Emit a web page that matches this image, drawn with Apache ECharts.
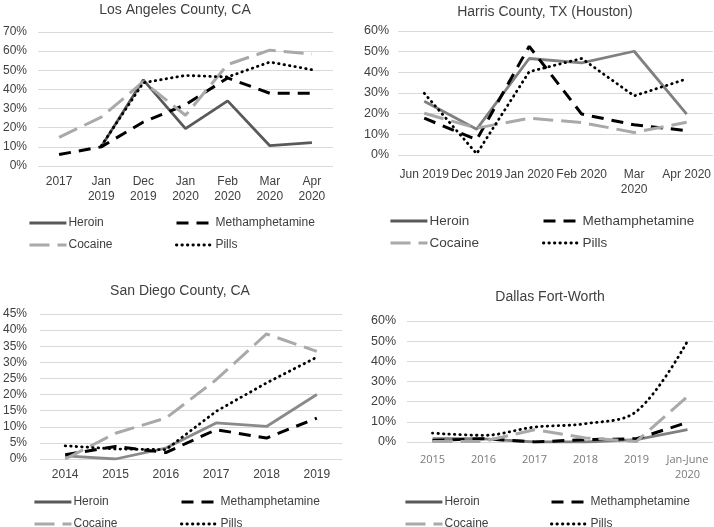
<!DOCTYPE html>
<html>
<head>
<meta charset="utf-8">
<script src="https://cdn.jsdelivr.net/npm/echarts@6/dist/echarts.min.js"></script>
<style>
html,body{margin:0;padding:0;background:#fff;}
#c{width:714px;height:527px;}
</style>
</head>
<body>
<div id="c"></div>
<script>
// ---- Data ----
const seriesNames = ['Heroin', 'Methamphetamine', 'Cocaine', 'Pills'];

// Los Angeles County, CA
const laCats = ['2017', 'Jan\n2019', 'Dec\n2019', 'Jan\n2020', 'Feb\n2020', 'Mar\n2020', 'Apr\n2020'];
const laHeroin = [null, 10, 45, 19.5, 34, 10.6, 12.2];
const laMeth = [6, 10, 23, 32, 46, 38, 38];
const laCocaine = [15, 25.5, 44, 26.5, 53, 60.5, 58.5];
const laPills = [null, 10.5, 43.5, 47.3, 46.5, 54.3, 50.3];
const laTicks = [0, 70, 10];

// Harris County, TX (Houston)
const hcCats = ['Jun 2019', 'Dec 2019', 'Jan 2020', 'Feb 2020', 'Mar\n2020', 'Apr 2020'];
const hcHeroin = [26, 12.5, 46.7, 44.6, 50.2, 19.8];
const hcMeth = [17.8, 7.4, 52.6, 19.8, 14.6, 11.8];
const hcCocaine = [20.2, 13, 17.8, 15.7, 10.9, 15.8];
const hcPills = [29.9, 0.6, 40.3, 46.7, 28.6, 36.8];
const hcTicks = [0, 60, 10];

// San Diego County, CA
const sdCats = ['2014', '2015', '2016', '2017', '2018', '2019'];
const sdHeroin = [1, 0, 3.4, 11.2, 10.1, 20];
const sdMeth = [1.3, 3.9, 2, 9.1, 6.5, 12.7];
const sdCocaine = [0, 8, 12.7, 24.6, 38.8, 33.4];
const sdPills = [4.1, 3.1, 2.9, 14.8, 23.6, 31.6];
const sdTicks = [0, 45, 5];

// Dallas Fort-Worth
const dfCats = ['2015', '2016', '2017', '2018', '2019', 'Jan-June\n2020'];
const dfHeroin = [1.6, 1.6, 0, 0, 1.2, 6.1];
const dfMeth = [0.8, 1.6, 0, 1.2, 1.6, 9.7];
const dfCocaine = [0.3, 0.3, 6.1, 2, 0.3, 22.6];
const dfPills = [4.4, 3.3, 7.4, 9.1, 15.2, 50];
const dfTicks = [0, 60, 10];

// ---- Styles ----
const FONT = 'Liberation Sans, Arial, sans-serif';
const styles = {
  Heroin: { type: 'solid', width: 2.8 },
  Methamphetamine: { color: '#000000', type: [12, 8], width: 3 },
  Cocaine: { color: '#a9a9a9', type: [20, 8], width: 3 },
  Pills: { color: '#000000', type: [0.5, 5], width: 2.8, cap: 'round' }
};

const panels = [
  { title: 'Los Angeles County, CA', tx: 170, ty: -2, cats: laCats, data: [laHeroin, laMeth, laCocaine, laPills], ticks: laTicks,
    grid: { left: 35, right: 381, top: 32, bottom: 361 }, heroinColor: '#595959', ylabel: { fontSize: 12, margin: 11 },
    xlabel: { fontSize: 12, margin: 8, color: '#404040', fontFamily: FONT }, legend: { l1: 28, l2: 175, r1: 217, r2: 239, fs: 12 }, smooth: [] },
  { title: 'Harris County, TX (Houston)', tx: 540, ty: 0, cats: hcCats, data: [hcHeroin, hcMeth, hcCocaine, hcPills], ticks: hcTicks,
    grid: { left: 398, right: 1, top: 31, bottom: 372 }, heroinColor: '#808080', ylabel: { fontSize: 12.5, margin: 9 },
    xlabel: { fontSize: 12, margin: 12, color: '#404040', fontFamily: FONT }, legend: { l1: 389, l2: 542, r1: 214, r2: 236, fs: 13.5 }, smooth: [] },
  { title: 'San Diego County, CA', tx: 175, ty: 279, cats: sdCats, data: [sdHeroin, sdMeth, sdCocaine, sdPills], ticks: sdTicks,
    grid: { left: 37, right: 372, top: 314, bottom: 68 }, heroinColor: '#8a8a8a', ylabel: { fontSize: 12, margin: 13 },
    xlabel: { fontSize: 12, margin: 8, color: '#404040', fontFamily: FONT }, legend: { l1: 33, l2: 180, r1: 496, r2: 518, fs: 12 }, smooth: [] },
  { title: 'Dallas Fort-Worth', tx: 545, ty: 285, cats: dfCats, data: [dfHeroin, dfMeth, dfCocaine, dfPills], ticks: dfTicks,
    grid: { left: 407, right: 1, top: 321, bottom: 85 }, heroinColor: '#808080', ylabel: { fontSize: 12.5, margin: 11 },
    xlabel: { fontSize: 11, margin: 10, color: '#7a7a7a', fontFamily: 'Open Sans, sans-serif' }, legend: { l1: 404, l2: 550, r1: 496, r2: 518, fs: 12 }, smooth: [3] }
];

const option = { animation: false, backgroundColor: '#fff', title: [], grid: [], xAxis: [], yAxis: [], series: [], legend: [] };

panels.forEach((p, i) => {
  option.title.push({ text: p.title, left: p.tx, top: p.ty, textAlign: 'center',
    textStyle: { fontFamily: FONT, fontSize: 14, fontWeight: 'normal', color: '#404040' } });
  option.grid.push(Object.assign({ containLabel: false }, p.grid));
  option.xAxis.push({ type: 'category', gridIndex: i, data: p.cats, boundaryGap: true,
    axisLine: { show: false }, axisTick: { show: false },
    axisLabel: Object.assign({ interval: 0, lineHeight: 15 }, p.xlabel) });
  option.yAxis.push({ type: 'value', gridIndex: i, min: p.ticks[0], max: p.ticks[1], interval: p.ticks[2],
    axisLine: { show: false }, axisTick: { show: false },
    splitLine: { lineStyle: { color: '#d9d9d9', width: 1 } },
    axisLabel: { formatter: '{value}%', color: '#404040', fontFamily: FONT, fontSize: p.ylabel.fontSize, margin: p.ylabel.margin } });
  seriesNames.forEach((n, k) => {
    const ls = Object.assign({}, styles[n]);
    if (n === 'Heroin') ls.color = p.heroinColor;
    option.series.push({ name: n, type: 'line', xAxisIndex: i, yAxisIndex: i, data: p.data[k],
      symbol: 'none', showSymbol: false, smooth: p.smooth.indexOf(k) >= 0 ? 0.35 : false,
      connectNulls: false, lineStyle: ls, itemStyle: { color: ls.color }, z: 2 + k });
  });
  const lg = p.legend;
  const pos = { Heroin: [lg.l1, lg.r1], Methamphetamine: [lg.l2, lg.r1], Cocaine: [lg.l1, lg.r2], Pills: [lg.l2, lg.r2] };
  seriesNames.forEach((n) => {
    option.legend.push({ orient: 'horizontal', left: pos[n][0], top: pos[n][1], padding: 0,
      data: [n], itemWidth: 37, itemHeight: 14, itemGap: 0, selectedMode: false,
      itemStyle: { opacity: 0, borderWidth: 0 },
      lineStyle: { width: styles[n].width },
      textStyle: { fontFamily: FONT, fontSize: lg.fs, color: '#404040', padding: [0, 0, 0, -3] } });
  });
});

const chart = echarts.init(document.getElementById('c'), null, { renderer: 'canvas' });
chart.setOption(option);
</script>
</body>
</html>
